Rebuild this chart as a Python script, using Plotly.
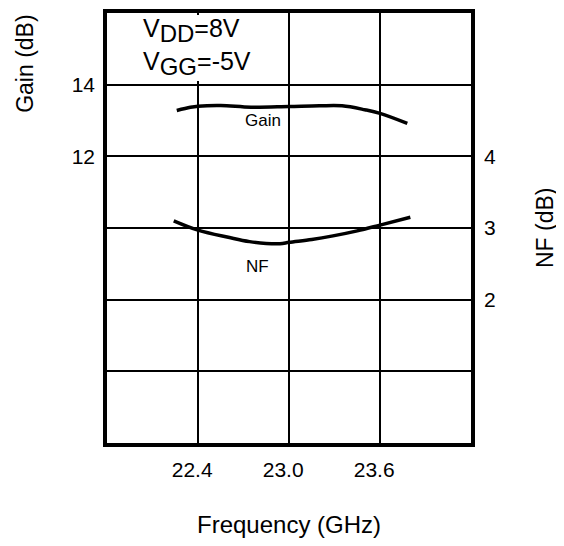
import plotly.graph_objects as go

# Data
gain_freq = [22.26, 22.35, 22.40, 22.55, 22.75, 23.00, 23.20, 23.35, 23.50, 23.60, 23.78]
gain_db = [13.28, 13.37, 13.40, 13.42, 13.37, 13.39, 13.41, 13.41, 13.30, 13.20, 12.92]

nf_freq = [22.24, 22.40, 22.60, 22.74, 22.94, 23.00, 23.15, 23.29, 23.45, 23.60, 23.80]
nf_db = [3.10, 2.97, 2.87, 2.81, 2.78, 2.80, 2.84, 2.89, 2.96, 3.04, 3.15]

x_ticks = [22.4, 23.0, 23.6]
x_ticktext = ["22.4\u00a0\u00a0", "23.0\u00a0\u00a0", "23.6\u00a0\u00a0"]
gain_grid = [6, 8, 10, 12, 14]
gain_ticktext = ["", "", "", "12", "14"]
nf_ticks = [2, 3, 4]
nf_ticktext = ["2", "3", "4"]

FONT = "Liberation Sans, Arial, Helvetica, sans-serif"

fig = go.Figure()
fig.add_trace(go.Scatter(x=gain_freq, y=gain_db, mode="lines",
                         line=dict(color="black", width=3.5, shape="spline"),
                         showlegend=False, yaxis="y"))
fig.add_trace(go.Scatter(x=nf_freq, y=nf_db, mode="lines",
                         line=dict(color="black", width=3.5, shape="spline"),
                         showlegend=False, yaxis="y2"))

# page body has an 8px margin, so the figure is 556x538
fig.update_layout(
    width=556, height=538,
    margin=dict(l=99, r=93, t=1, b=103),
    paper_bgcolor="white", plot_bgcolor="white",
    font=dict(family=FONT, color="black", size=21),
    xaxis=dict(range=[21.8, 24.2], tickvals=x_ticks, ticktext=x_ticktext,
               showgrid=True, gridcolor="black", gridwidth=2,
               showline=True, linecolor="black", linewidth=3.5, mirror=True,
               ticks="", ticklabelstandoff=5, zeroline=False,
               tickfont=dict(size=21)),
    yaxis=dict(range=[4, 16], tickvals=gain_grid, ticktext=gain_ticktext,
               showgrid=True, gridcolor="black", gridwidth=2,
               showline=True, linecolor="black", linewidth=3.5, mirror=True,
               ticks="", ticklabelstandoff=4, zeroline=False,
               tickfont=dict(size=21)),
    yaxis2=dict(range=[0, 6], tickvals=nf_ticks, ticktext=nf_ticktext,
                overlaying="y", side="right", showgrid=False, showline=False,
                ticks="", ticklabelstandoff=12, zeroline=False,
                tickfont=dict(size=21)),
)

fig.add_annotation(xref="paper", yref="paper", x=0.006, y=0.996, xanchor="left",
                   yanchor="top", text=" ", showarrow=False, bgcolor="white",
                   width=178, height=66, borderpad=0, borderwidth=0)
fig.add_annotation(xref="paper", yref="paper", x=0.093, y=1.003, xanchor="left",
                   yanchor="top",
                   text='V<sub><span style="font-size:24px">DD</span></sub>=8V<br>'
                        'V<sub><span style="font-size:24px">GG</span></sub>=-5V',
                   showarrow=False, align="left", font=dict(size=25))
fig.add_annotation(x=22.83, y=13.0, xref="x", yref="y", text="Gain",
                   showarrow=False, font=dict(size=17))
fig.add_annotation(x=22.79, y=2.46, xref="x", yref="y2", text="NF",
                   showarrow=False, font=dict(size=17))
fig.add_annotation(xref="paper", yref="paper", x=0.5, y=-0.189, xanchor="center",
                   yanchor="middle", text="Frequency (GHz)", showarrow=False,
                   font=dict(size=24))
fig.add_annotation(xref="paper", yref="paper", x=-0.225, y=0.882, xanchor="center",
                   yanchor="middle", text="Gain (dB)", textangle=-90,
                   showarrow=False, font=dict(size=23))
fig.add_annotation(xref="paper", yref="paper", x=1.203, y=0.502, xanchor="center",
                   yanchor="middle", text="NF (dB)", textangle=-90,
                   showarrow=False, font=dict(size=23))

fig.write_html("out.html")
